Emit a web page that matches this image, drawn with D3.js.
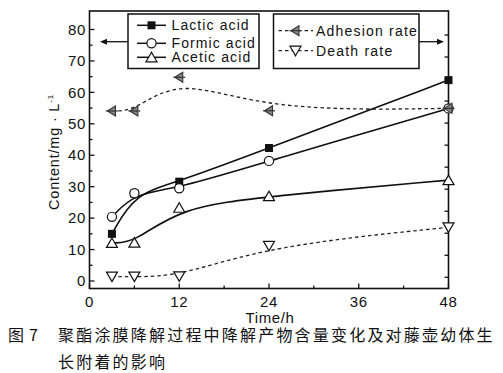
<!DOCTYPE html>
<html>
<head>
<meta charset="utf-8">
<script src="https://cdn.jsdelivr.net/npm/d3@7/dist/d3.min.js"></script>
<style>
  body { margin: 0; background: #fff; }
  svg { display: block; }
  text { font-family: "Liberation Sans", Arial, sans-serif; fill: #111; }
</style>
</head>
<body>
<svg id="chart" width="503" height="373"></svg>
<script>
// sampling times (h)
var hours = [3, 6, 12, 24, 48];

// left axis, mg/L
var lactic = [15, 27.8, 31.6, 42.3, 63.9];
var formic = [20.4, 27.9, 29.5, 38.2, 54.9];
var acetic = [12.1, 12.2, 23.3, 27, 32.1];

// right axis, %
var adhesion = [75.5, 75.5, 90.8, 75.6, 76.7];
var death = [0.3, 0.3, 0.4, 14.3, 22.7];

var xTicks = [0, 12, 24, 36, 48];
var xMinor = [6, 18, 30, 42];
var yTicks = [0, 10, 20, 30, 40, 50, 60, 70, 80];
var yMinor = [5, 15, 25, 35, 45, 55, 65, 75];
var rTicks = [0, 10, 20, 30, 40, 50, 60, 70, 80, 90, 100, 110];

var accNames = ["Lactic acid", "Formic acid", "Acetic acid"];
var rateNames = ["Adhesion rate", "Death rate"];
var captionLines = ["聚酯涂膜降解过程中降解产物含量变化及对藤壶幼体生", "长附着的影响"];

var svg = d3.select("#chart");
var ink = "#111";

var x = d3.scaleLinear().domain([0, 48]).range([89.5, 448.5]);
var y = d3.scaleLinear().domain([0, 80]).range([281, 29.5]);
var yr = d3.scaleLinear().domain([0, 110]).range([277.3, 35]);

var frame = {left: 89.5, right: 448.5, top: 11, bottom: 288.5};

// ---- axes (ticks inside the frame)
var gAx = svg.append("g").attr("stroke", ink).attr("stroke-width", 1.3);
gAx.selectAll(".yt").data(yTicks).enter().append("line")
    .attr("x1", frame.left).attr("x2", frame.left + 5)
    .attr("y1", function (d) { return y(d); }).attr("y2", function (d) { return y(d); });
gAx.selectAll(".ym").data(yMinor).enter().append("line")
    .attr("x1", frame.left).attr("x2", frame.left + 3)
    .attr("y1", function (d) { return y(d); }).attr("y2", function (d) { return y(d); });
gAx.selectAll(".rt").data(rTicks).enter().append("line")
    .attr("x1", frame.right - 4).attr("x2", frame.right)
    .attr("y1", function (d) { return yr(d); }).attr("y2", function (d) { return yr(d); });
gAx.selectAll(".xt").data(xTicks).enter().append("line")
    .attr("y1", frame.bottom).attr("y2", frame.bottom - 5)
    .attr("x1", function (d) { return x(d); }).attr("x2", function (d) { return x(d); });
gAx.selectAll(".xm").data(xMinor).enter().append("line")
    .attr("y1", frame.bottom).attr("y2", frame.bottom - 3)
    .attr("x1", function (d) { return x(d); }).attr("x2", function (d) { return x(d); });

svg.append("rect")
    .attr("x", frame.left).attr("y", frame.top)
    .attr("width", frame.right - frame.left).attr("height", frame.bottom - frame.top)
    .attr("fill", "none").attr("stroke", ink).attr("stroke-width", 1.6);

svg.selectAll(".ylab").data(yTicks).enter().append("text")
    .attr("x", 86).attr("y", function (d) { return y(d) + 5.2; })
    .attr("text-anchor", "end").attr("font-size", 15).attr("letter-spacing", 0.6)
    .text(function (d) { return d; });

svg.selectAll(".xlab").data(xTicks).enter().append("text")
    .attr("x", function (d) { return x(d); }).attr("y", 307)
    .attr("text-anchor", "middle").attr("font-size", 15).attr("letter-spacing", 0.6)
    .text(function (d) { return d; });

svg.append("text").attr("x", 270).attr("y", 322.5).attr("text-anchor", "middle")
    .attr("font-size", 15).attr("letter-spacing", 0.6).text("Time/h");

var ylab = svg.append("text")
    .attr("transform", "translate(59,152) rotate(-90)")
    .attr("text-anchor", "middle").attr("font-size", 14.5).attr("letter-spacing", 0.8);
ylab.append("tspan").text("Content/mg · L");
ylab.append("tspan").attr("font-size", 8).attr("dy", -6).text("-1");

// ---- curves (B-spline like the original)
function series(vals, sc) {
    return hours.map(function (h, i) { return [x(h), sc(vals[i])]; });
}
var basis = d3.line().curve(d3.curveBasis);

var gLines = svg.append("g").attr("fill", "none");
[lactic, formic, acetic].forEach(function (v) {
    gLines.append("path").attr("d", basis(series(v, y)))
        .attr("stroke", ink).attr("stroke-width", 1.6);
});
[adhesion, death].forEach(function (v) {
    gLines.append("path").attr("d", basis(series(v, yr)))
        .attr("stroke", "#222").attr("stroke-width", 1.3).attr("stroke-dasharray", "3.5,3");
});

// ---- markers
function square(g) {
    g.append("rect").attr("x", -4).attr("y", -4).attr("width", 8).attr("height", 8)
        .attr("fill", ink);
}
function circle(g) {
    g.append("circle").attr("r", 4.6).attr("fill", "#fff").attr("stroke", ink).attr("stroke-width", 1.2);
}
function triUp(g) {
    g.append("path").attr("d", "M0,-5L5.5,4.5L-5.5,4.5Z")
        .attr("fill", "#fff").attr("stroke", ink).attr("stroke-width", 1.2);
}
function triDown(g) {
    g.append("path").attr("d", "M0,5L5.5,-4.5L-5.5,-4.5Z")
        .attr("fill", "#fff").attr("stroke", ink).attr("stroke-width", 1.2);
}
function triLeft(g) {
    g.append("path").attr("d", "M-4.5,0L3.5,-5L3.5,5Z")
        .attr("fill", "#888").attr("stroke", "#333").attr("stroke-width", 1.1);
    g.append("line").attr("x1", -6).attr("x2", 6).attr("stroke", "#333").attr("stroke-width", 1.2);
}

function drawMarks(vals, sc, shape) {
    svg.append("g").selectAll("g").data(hours).enter().append("g")
        .attr("transform", function (h, i) { return "translate(" + x(h) + "," + sc(vals[i]) + ")"; })
        .each(function () { shape(d3.select(this)); });
}
drawMarks(lactic, y, square);
drawMarks(formic, y, circle);
drawMarks(acetic, y, triUp);
drawMarks(adhesion, yr, triLeft);
drawMarks(death, yr, triDown);

// ---- legends
var leg1 = svg.append("g");
leg1.append("rect").attr("x", 128).attr("y", 14).attr("width", 131).attr("height", 54.5)
    .attr("fill", "#fff").attr("stroke", ink).attr("stroke-width", 1.5);
var rows1 = [25.3, 43.3, 57.3];
var shapes1 = [square, circle, triUp];
accNames.forEach(function (name, i) {
    leg1.append("line").attr("x1", 137).attr("x2", 166).attr("y1", rows1[i]).attr("y2", rows1[i])
        .attr("stroke", ink).attr("stroke-width", 1.5);
    var m = leg1.append("g").attr("transform", "translate(151.5," + rows1[i] + ")");
    shapes1[i](m);
    leg1.append("text").attr("x", 171.5).attr("y", rows1[i] + 5)
        .attr("font-size", 14).attr("letter-spacing", 1.1).text(name);
});

var leg2 = svg.append("g");
leg2.append("rect").attr("x", 273.5).attr("y", 14).attr("width", 145.5).attr("height", 54.5)
    .attr("fill", "#fff").attr("stroke", ink).attr("stroke-width", 1.5);
var rows2 = [30.7, 50.7];
var shapes2 = [triLeft, triDown];
rateNames.forEach(function (name, i) {
    leg2.append("line").attr("x1", 278.5).attr("x2", 313).attr("y1", rows2[i]).attr("y2", rows2[i])
        .attr("stroke", "#222").attr("stroke-width", 1.2).attr("stroke-dasharray", "3.5,3");
    var m = leg2.append("g").attr("transform", "translate(295.5," + rows2[i] + ")");
    shapes2[i](m);
    leg2.append("text").attr("x", 316).attr("y", rows2[i] + 5)
        .attr("font-size", 14).attr("letter-spacing", 1.2).text(name);
});

// arrows pointing to each axis
function arrow(x1, x2, yy) {
    var dir = x2 > x1 ? 1 : -1;
    svg.append("line").attr("x1", x1).attr("x2", x2 - dir * 5).attr("y1", yy).attr("y2", yy)
        .attr("stroke", ink).attr("stroke-width", 1.3);
    svg.append("path")
        .attr("d", "M" + x2 + "," + yy + "L" + (x2 - dir * 7) + "," + (yy - 3) + "L" + (x2 - dir * 7) + "," + (yy + 3) + "Z")
        .attr("fill", ink);
}
arrow(128, 100, 41.7);
arrow(419, 444, 41.7);

// ---- caption
var cap = svg.append("g").style("font-family", "'Noto Sans CJK SC', sans-serif");
cap.append("text").attr("x", 8).attr("y", 341).attr("font-size", 16).attr("letter-spacing", 5)
    .style("font-family", "inherit").attr("fill", "#1a1a2a").text("图7");
captionLines.forEach(function (line, i) {
    cap.append("text").attr("x", 58).attr("y", 341 + i * 26.5)
        .attr("font-size", 16).attr("letter-spacing", 2.2)
        .style("font-family", "inherit").attr("fill", "#1a1a2a").text(line);
});
</script>
</body>
</html>
